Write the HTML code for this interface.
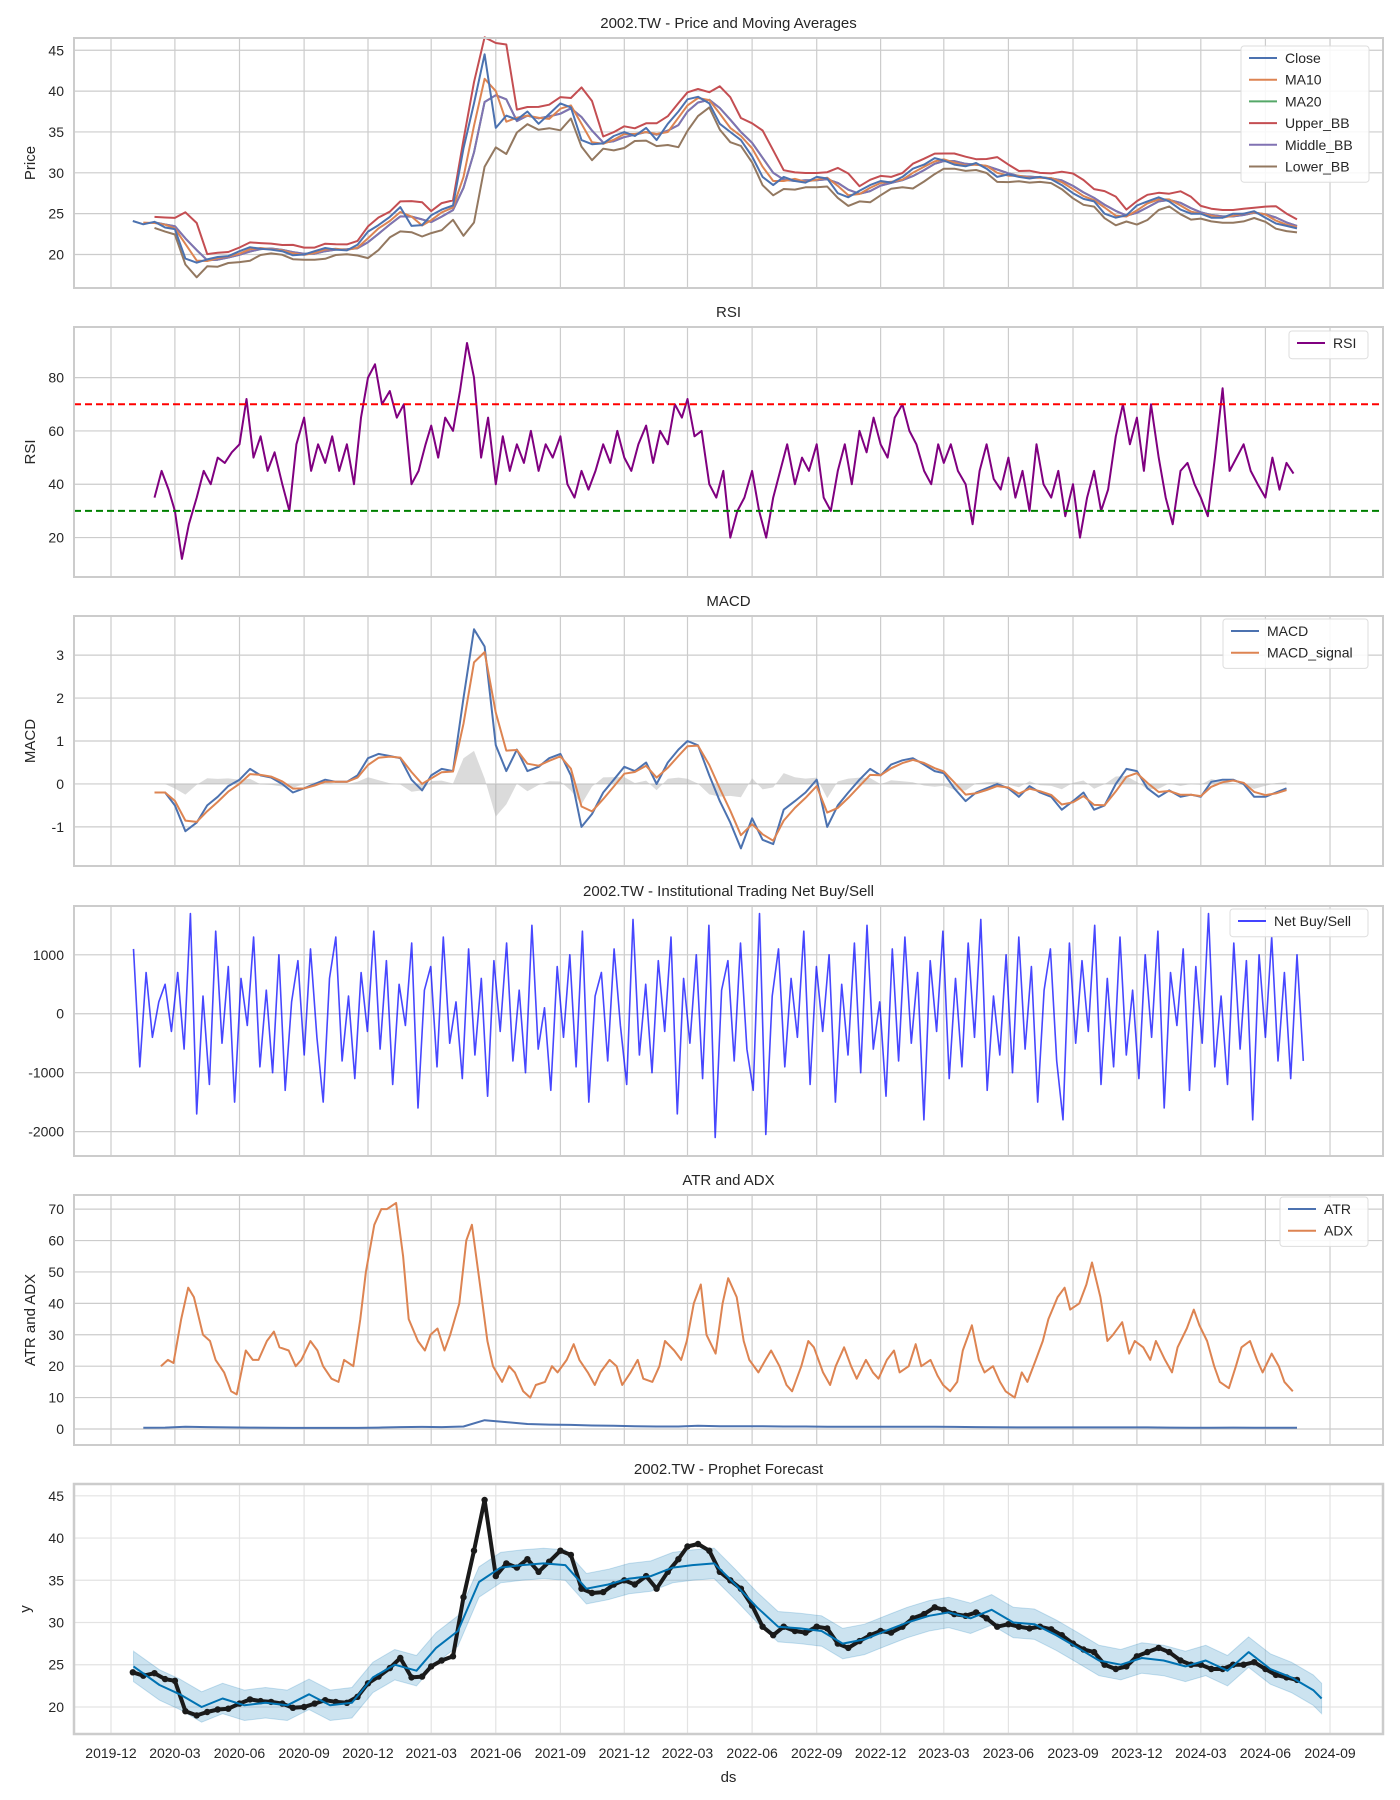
<!DOCTYPE html>
<html><head><meta charset="utf-8"><style>
body{margin:0;background:#fff}
svg{display:block;font-family:"Liberation Sans",Arial,sans-serif}
</style></head><body>
<svg id="chart" width="1400" height="1800" viewBox="0 0 1400 1800" xmlns="http://www.w3.org/2000/svg"></svg>
<script>
// ---------- DATA ----------
// Close, semi-monthly samples (1st & 16th) from 2020-01
const closeVals = [24.1,23.7, 24.0,23.3, 23.1,19.5, 19.0,19.4, 19.7,19.8, 20.4,20.9, 20.7,20.6, 20.4,19.9, 20.0,20.4, 20.8,20.6, 20.5,21.2, 22.8,23.6,
 24.6,25.8, 23.5,23.6, 24.8,25.5, 26.0,33.0, 38.5,44.5, 35.5,37.0, 36.5,37.5, 36.0,37.2, 38.5,38.0, 34.0,33.5, 33.6,34.5, 35.0,34.5,
 35.5,34.0, 36.0,37.5, 39.0,39.3, 38.5,36.0, 35.0,34.0, 32.0,29.5, 28.5,29.5, 29.0,28.8, 29.5,29.3, 27.5,27.0, 27.8,28.5, 29.0,28.8,
 29.5,30.5, 31.0,31.8, 31.5,31.0, 30.8,31.2, 30.5,29.5, 29.8,29.5, 29.3,29.5, 29.2,28.5, 27.5,26.8, 26.5,25.0, 24.5,24.8, 26.0,26.5,
 27.0,26.5, 25.5,25.0, 25.0,24.5, 24.5,25.0, 25.0,25.3, 24.5,23.8, 23.5,23.2];
// RSI, three samples per month (1st, 11th, 21st) from 2020-02
const rsiVals = [35,45,38, 30,12,25, 35,45,40, 50,48,52, 55,72,50, 58,45,52, 40,30,55, 65,45,55, 48,58,45, 55,40,65, 80,85,70,
 75,65,70, 40,45,55, 62,50,65, 60,75,93, 80,50,65, 40,58,45, 55,48,60, 45,55,50, 58,40,35, 45,38,45, 55,48,60, 50,45,55,
 62,48,60, 55,70,65, 72,58,60, 40,35,45, 20,30,35, 45,30,20, 35,45,55, 40,50,45, 55,35,30, 45,55,40, 60,52,65, 55,50,65,
 70,60,55, 45,40,55, 48,55,45, 40,25,45, 55,42,38, 50,35,45, 30,55,40, 35,45,28, 40,20,35, 45,30,38, 58,70,55, 65,45,70,
 50,35,25, 45,48,40, 35,28,50, 76,45,50, 55,45,40, 35,50,38, 48,44];
const rsiLevels = [70, 30];
// MACD, semi-monthly from 2020-02
const macdVals = [-0.2,-0.2, -0.5,-1.1, -0.9,-0.5, -0.3,-0.05, 0.1,0.35, 0.2,0.15, 0.0,-0.2, -0.1,0.0, 0.1,0.05, 0.05,0.2, 0.6,0.7,
 0.65,0.6, 0.1,-0.15, 0.2,0.35, 0.3,2.0, 3.6,3.2, 0.9,0.3, 0.8,0.3, 0.4,0.6, 0.7,0.2, -1.0,-0.7, -0.2,0.1, 0.4,0.3,
 0.5,0.0, 0.5,0.8, 1.0,0.9, 0.2,-0.4, -0.9,-1.5, -0.8,-1.3, -1.4,-0.6, -0.4,-0.2, 0.1,-1.0, -0.5,-0.2, 0.1,0.35, 0.2,0.45,
 0.55,0.6, 0.45,0.3, 0.25,-0.1, -0.4,-0.2, -0.1,0.0, -0.1,-0.3, -0.05,-0.2, -0.3,-0.6, -0.4,-0.2, -0.6,-0.5, 0.0,0.35, 0.3,-0.1,
 -0.3,-0.15, -0.3,-0.25, -0.3,0.05, 0.1,0.1, 0.0,-0.3, -0.3,-0.2, -0.1];
// Net buy/sell, evenly spaced 2020-01-02 .. 2024-07-25
const netVals = [1100,-900,700,-400,200,500,-300,700,-600,1700,-1700,300,-1200,1400,-500,800,-1500,600,-200,1300,-900,400,-1000,1000,-1300,200,900,-700,1100,-400,-1500,600,1300,-800,300,-1100,700,-300,1400,-600,900,-1200,500,-200,1200,-1600,400,800,-900,1300,-500,200,-1100,1100,-700,600,-1400,900,-300,1200,-800,400,-1000,1500,-600,100,-1300,800,-400,1000,-900,1400,-1500,300,700,-800,1100,-200,-1200,1600,-700,500,-1000,900,-300,1300,-1700,600,-500,1000,-1100,1500,-2100,400,900,-800,1200,-600,-1300,1700,-2050,300,1100,-900,600,-400,1400,-1200,800,-300,1000,-1500,500,-700,1200,-1000,1500,-600,200,-1400,1100,-800,1300,-500,700,-1800,900,-300,1400,-1100,600,-900,1200,-400,1600,-1300,300,-700,1000,-1000,1300,-600,800,-1500,400,1100,-800,-1800,1200,-500,900,-300,1500,-1200,600,-900,1300,-700,400,-1100,1000,-400,1400,-1600,700,-200,1100,-1300,800,-500,1700,-900,300,-1200,1200,-600,900,-1800,1000,-400,1300,-800,700,-1100,1000,-800];
// ATR monthly from 2020-01
const atrVals = [.4,.45,.7,.6,.5,.45,.4,.35,.35,.35,.35,.45, .6,.65,.6,.8,2.8,2.2,1.6,1.4,1.3,1.1,1.0,.9, .8,.8,1.0,.9,.9,.9,.8,.8,.7,.7,.7,.7, .7,.7,.65,.6,.55,.5,.5,.5,.5,.5,.5,.5, .45,.4,.4,.45,.4,.4,.4];
// ADX three per month from 2020-02
const adxVals = [20,22,21, 35,45,42, 30,28,22, 18,12,11, 25,22,22, 28,31,26, 25,20,22, 28,25,20, 16,15,22, 20,35,50, 65,70,70,
 72,55,35, 28,25,30, 32,25,30, 40,60,65, 45,28,20, 15,20,18, 12,10,14, 15,20,18, 22,27,22, 18,14,18, 22,20,14, 18,22,16,
 15,20,28, 25,22,28, 40,46,30, 24,40,48, 42,28,22, 18,22,25, 20,14,12, 20,28,26, 18,14,20, 26,20,16, 22,18,16, 22,25,18,
 20,27,20, 22,17,14, 12,15,25, 33,22,18, 20,15,12, 10,18,15, 22,28,35, 42,45,38, 40,46,53, 42,28,30, 34,24,28, 26,22,28,
 22,18,26, 32,38,33, 28,20,15, 13,20,26, 28,22,18, 24,20,15, 12];
// Prophet yhat, monthly from 2020-01 through 2024-08, last point 2024-08-20
const yhatVals = [24.8,22.6,21.5,20.0,21.0,20.2,20.5,20.2,21.5,20.2,20.5,23.5, 25.0,24.3,27.0,29.0,34.8,36.5,36.8,37.0,36.8,34.0,34.5,35.2,
 35.5,36.5,36.8,37.0,34.5,31.8,29.5,29.3,29.0,27.5,28.0,29.0, 30.0,30.8,31.2,30.5,31.5,30.0,29.8,28.5,27.0,25.5,25.0,25.8,
 25.5,24.8,25.5,24.3,26.5,24.5,23.5,22.0,21.0];
const xTickLabels = ['2019-12','2020-03','2020-06','2020-09','2020-12','2021-03','2021-06','2021-09','2021-12','2022-03','2022-06','2022-09','2022-12','2023-03','2023-06','2023-09','2023-12','2024-03','2024-06','2024-09'];

// ---------- HELPERS ----------
const NS='http://www.w3.org/2000/svg';
const svg=document.getElementById('chart');
const X0=74, X1=1383;
const T0=Date.UTC(2019,11,1);
function dayOf(y,m,d){return (Date.UTC(y,m-1,d)-T0)/86400000;}
function xs(days){return 111+days*0.7022;}
function mk(tag,attrs,parent){const e=document.createElementNS(NS,tag);for(const k in attrs)e.setAttribute(k,attrs[k]);(parent||svg).appendChild(e);return e;}
function txt(s,attrs,parent){const e=mk('text',attrs,parent);e.textContent=s;return e;}
function seqDates(y,m,perMonth,days,n){const out=[];let yy=y,mm=m;while(out.length<n){for(const d of days){if(out.length<n)out.push(dayOf(yy,mm,d));}mm++;if(mm>12){mm=1;yy++;}}return out;}
function tickDays(l){const p=l.split('-');return dayOf(+p[0],+p[1],1);}

const TOPS=[38,327,616,906,1195,1484], H=250;
function makePanel(i,ymin,ymax,yticks,title,ylabel,name,light){
  const top=TOPS[i], bot=top+H;
  const g=mk('g',{});
  
  
  const ys=v=>bot-(v-ymin)/(ymax-ymin)*H;
  const gc=light?'#e3e3e3':'#cccccc';
  const grid=mk('g',{},g);
  
  
  xTickLabels.forEach(l=>{const x=xs(tickDays(l));mk('line',{x1:x,x2:x,y1:top,y2:bot,stroke:gc,'stroke-width':1.2},grid);});
  yticks.forEach(v=>{const y=ys(v);mk('line',{x1:X0,x2:X1,y1:y,y2:y,stroke:gc,'stroke-width':1.2},grid);
    const t=txt(String(v),{x:X0-10,y:y+5,'text-anchor':'end','font-size':14,fill:'#262626'},g);
    
    });
  const t=txt(title,{x:(X0+X1)/2,y:top-10,'text-anchor':'middle','font-size':15,fill:'#262626'},g);
  
  
  const yl=txt(ylabel,{x:0,y:0,'text-anchor':'middle','font-size':15,fill:'#262626',transform:`translate(${light?30:35},${top+H/2}) rotate(-90)`},g);
  
  
  const plot=mk('g',{},g);
  
  
  const frame=mk('rect',{x:X0,y:top,width:X1-X0,height:H,fill:'none',stroke:'#cccccc','stroke-width':light?2.5:2});
  
  
  return {ys,plot,top,bot};
}
function pathOf(xd,vals,ys){return vals.map((v,i)=>(i?'L':'M')+xs(xd[i]).toFixed(1)+' '+ys(v).toFixed(1)).join('');}
function line(p,xd,vals,color,w,name,extra){const e=mk('path',Object.assign({d:pathOf(xd,vals,p.ys),fill:'none',stroke:color,'stroke-width':w,'stroke-linejoin':'round'},extra||{}),p.plot);
  
  return e;}
function legend(x,y,w,items){
  const g=mk('g',{});
  
  
  const h=items.length*21.7+6;
  mk('rect',{x,y,width:w,height:h,rx:3,fill:'#ffffff','fill-opacity':0.85,stroke:'#dddddd'},g);
  items.forEach((it,i)=>{const cy=y+12+i*21.7;
    const e=mk('g',{},g);
    
    
    mk('line',{x1:x+8,x2:x+36,y1:cy,y2:cy,stroke:it[1],'stroke-width':2},e);
    txt(it[0],{x:x+44,y:cy+5,'font-size':14,fill:'#262626'},e);});
}

// ---------- PANEL 1: Price ----------
const p1=makePanel(0,15.9,46.5,[20,25,30,35,40,45],'2002.TW - Price and Moving Averages','Price','price-panel');
const cDates=seqDates(2020,1,2,[1,16],closeVals.length);
const ma10=[],ma20=[],up=[],lo=[],mDates=[],m2Dates=[];
closeVals.forEach((v,i)=>{
  if(i>=1){ma10.push((v+closeVals[i-1])/2);mDates.push(cDates[i]);}
  if(i>=2){const w=closeVals.slice(i-2,i+1);const m=w.reduce((a,b)=>a+b,0)/3;const sd=Math.sqrt(w.reduce((a,b)=>a+(b-m)*(b-m),0)/3);
    ma20.push(m);up.push(m+1.6*sd+0.4);lo.push(m-1.6*sd-0.4);m2Dates.push(cDates[i]);}
});
line(p1,m2Dates,lo,'#937860',2,'lower-bb-line');
line(p1,m2Dates,up,'#c44e52',2,'upper-bb-line');
line(p1,m2Dates,ma20,'#55a868',2,'ma20-line');
line(p1,m2Dates,ma20,'#8172b3',2,'middle-bb-line');
line(p1,mDates,ma10,'#dd8452',2,'ma10-line');
line(p1,cDates,closeVals,'#4c72b0',2,'close-line');
legend(1241,46,128,[['Close','#4c72b0'],['MA10','#dd8452'],['MA20','#55a868'],['Upper_BB','#c44e52'],['Middle_BB','#8172b3'],['Lower_BB','#937860']]);

// ---------- PANEL 2: RSI ----------
const p2=makePanel(1,5.2,99,[20,40,60,80],'RSI','RSI','rsi-panel');
const rDates=seqDates(2020,2,3,[1,11,21],rsiVals.length);
line(p2,rDates,rsiVals,'#800080',2,'rsi-line');
rsiLevels.forEach((lv,i)=>{const y=p2.ys(lv);const e=mk('line',{x1:X0,x2:X1,y1:y,y2:y,stroke:i?'#008000':'#ff0000','stroke-width':2,'stroke-dasharray':'7,4'},p2.plot);
  
  });
legend(1289,331,79,[['RSI','#800080']]);

// ---------- PANEL 3: MACD ----------
const p3=makePanel(2,-1.91,3.91,[-1,0,1,2,3],'MACD','MACD','macd-panel');
const mcDates=seqDates(2020,2,2,[1,16],macdVals.length);
const sig=[];let s=macdVals[0];
macdVals.forEach(v=>{s=s+0.65*(v-s);sig.push(s);});
const hist=macdVals.map((v,i)=>v-sig[i]);
let hd='M'+xs(mcDates[0])+' '+p3.ys(0);
hist.forEach((h,i)=>{hd+='L'+xs(mcDates[i]).toFixed(1)+' '+p3.ys(h).toFixed(1);});
hd+='L'+xs(mcDates[mcDates.length-1])+' '+p3.ys(0)+'Z';
const hf=mk('path',{d:hd,fill:'#b0b0b0','fill-opacity':0.45,stroke:'none'},p3.plot);


line(p3,mcDates,macdVals,'#4c72b0',2,'macd-line');
line(p3,mcDates,sig,'#dd8452',2,'macd-signal-line');
legend(1223,619,145,[['MACD','#4c72b0'],['MACD_signal','#dd8452']]);

// ---------- PANEL 4: Net Buy/Sell ----------
const p4=makePanel(3,-2414,1828,[-2000,-1000,0,1000],'2002.TW - Institutional Trading Net Buy/Sell','','netbuy-panel');
const nStart=dayOf(2020,1,2), nEnd=dayOf(2024,7,25);
const nDates=netVals.map((v,i)=>nStart+(nEnd-nStart)*i/(netVals.length-1));
line(p4,nDates,netVals,'#0000ff',1.6,'net-buy-sell-line',{'stroke-opacity':0.72});
legend(1230,909,138,[['Net Buy/Sell','#4444ff']]);

// ---------- PANEL 5: ATR / ADX ----------
const p5=makePanel(4,-5.1,74.5,[0,10,20,30,40,50,60,70],'ATR and ADX','ATR and ADX','atr-adx-panel');
const aDates=seqDates(2020,1,1,[16],atrVals.length);
const dDates=seqDates(2020,2,3,[10,20,28],adxVals.length);
line(p5,aDates,atrVals,'#4c72b0',2,'atr-line');
line(p5,dDates,adxVals,'#dd8452',2,'adx-line');
legend(1280,1197,88,[['ATR','#4c72b0'],['ADX','#dd8452']]);

// ---------- PANEL 6: Prophet ----------
const p6=makePanel(5,16.8,46.4,[20,25,30,35,40,45],'2002.TW - Prophet Forecast','y','prophet-panel',true);
const yDates=seqDates(2020,1,1,[8],yhatVals.length-1).concat([dayOf(2024,8,20)]);
yDates[0]=dayOf(2020,1,2);
let bd='';
yhatVals.forEach((v,i)=>{bd+=(i?'L':'M')+xs(yDates[i]).toFixed(1)+' '+p6.ys(v+1.8).toFixed(1);});
for(let i=yhatVals.length-1;i>=0;i--){bd+='L'+xs(yDates[i]).toFixed(1)+' '+p6.ys(yhatVals[i]-1.8).toFixed(1);}
const band=mk('path',{d:bd+'Z',fill:'#0072B2','fill-opacity':0.2,stroke:'#0072B2','stroke-opacity':0.2},p6.plot);


line(p6,cDates,closeVals,'#1a1a1a',4,'observed-points-trace');
closeVals.forEach((v,i)=>{const c=mk('circle',{cx:xs(cDates[i]).toFixed(1),cy:p6.ys(v).toFixed(1),r:3.2,fill:'#1a1a1a'},p6.plot);
  
  });
line(p6,yDates,yhatVals,'#0072B2',2,'forecast-line');
xTickLabels.forEach(l=>{const t=txt(l,{x:xs(tickDays(l)),y:1758,'text-anchor':'middle','font-size':14,fill:'#262626'});
  
  });
const xl=txt('ds',{x:(X0+X1)/2,y:1782,'text-anchor':'middle','font-size':15,fill:'#262626'});


</script>
</body></html>
